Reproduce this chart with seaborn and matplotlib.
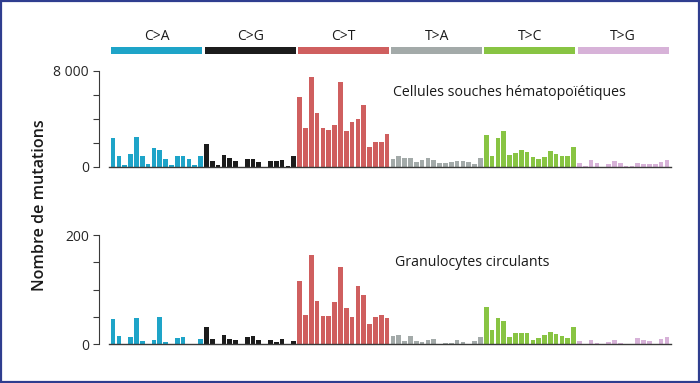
import numpy as np
import pandas as pd
import matplotlib
matplotlib.use("Agg")
import matplotlib.pyplot as plt
import seaborn as sns
from matplotlib.patches import Rectangle

# mutation classes (16 trinucleotide contexts each)
classes = ["C>A", "C>G", "C>T", "T>A", "T>C", "T>G"]
class_colors = ["#1ea4c8", "#1c1c1c", "#cf5f5f", "#a3aaa9", "#88c443", "#d7b2d8"]

# Cellules souches hematopoietiques
hsc_ca = [2370, 920, 140, 1060, 2510, 920, 200, 1530, 1390, 610, 140, 920, 860, 670, 140, 920]
hsc_cg = [1920, 450, 140, 980, 700, 470, 0, 640, 640, 360, 0, 500, 450, 560, 80, 860]
hsc_ct = [5840, 3260, 7470, 4490, 3230, 3090, 3510, 7070, 2980, 3710, 4010, 5170, 1660, 2080, 2080, 2690]
hsc_ta = [650, 840, 730, 730, 390, 510, 700, 560, 280, 280, 340, 420, 420, 340, 220, 700]
hsc_tc = [2670, 870, 2390, 2980, 930, 1150, 1380, 1240, 760, 650, 790, 1320, 1070, 840, 840, 1630]
hsc_tg = [280, 60, 530, 330, 0, 200, 450, 330, 40, 30, 280, 220, 220, 250, 360, 560]

# Granulocytes circulants
gran_ca = [46, 14, 0, 13, 48, 5, 0, 8, 49, 4, 0, 11, 13, 0, 0, 10]
gran_cg = [31, 10, 0, 17, 10, 8, 0, 12, 15, 8, 0, 8, 3, 10, 0, 5]
gran_ct = [115, 54, 163, 79, 52, 52, 77, 142, 66, 50, 107, 89, 37, 50, 54, 48]
gran_ta = [14, 17, 5, 14, 6, 3, 8, 9, 0, 2.5, 2.5, 7, 3, 0, 5, 13]
gran_tc = [67, 25, 47, 42, 13.5, 20, 20, 20, 7, 11, 17, 22, 19, 14, 11, 32]
gran_tg = [6, 0, 8, 2.5, 0, 3, 8, 2, 0, 0, 11, 7, 5, 0, 8.5, 12]

def make_df(parts):
    rows = []
    for cls, vals in zip(classes, parts):
        for v in vals:
            rows.append((cls, v))
    df = pd.DataFrame(rows, columns=["classe", "count"])
    df["pos"] = np.arange(len(df))
    return df

hsc = make_df([hsc_ca, hsc_cg, hsc_ct, hsc_ta, hsc_tc, hsc_tg])
gran = make_df([gran_ca, gran_cg, gran_ct, gran_ta, gran_tc, gran_tg])

sns.set_style("white")
plt.rcParams["font.family"] = ["Open Sans", "DejaVu Sans"]
text_col = "#1a1a1a"
axis_col = "#3a3a3a"

W, H = 700, 383
fig = plt.figure(figsize=(7, 3.83), dpi=100)
fig.patches.append(Rectangle((0.0015, 0.003), 0.997, 0.994, transform=fig.transFigure,
                             fill=False, edgecolor="#2f3d8f", linewidth=1.6))

def px_axes(x0, y0, x1, y1):
    return fig.add_axes([x0 / W, 1 - y1 / H, (x1 - x0) / W, (y1 - y0) / H])

pal = dict(zip(classes, class_colors))

def panel(ax, df, ymax, ticks, ticklabels, label, label_xy):
    sns.barplot(data=df, x="pos", y="count", hue="classe", palette=pal, dodge=False,
                width=0.8, legend=False, ax=ax, saturation=1, linewidth=0)
    ax.set_xlim(-0.7, 95.7)
    ax.set_ylim(0, ymax)
    ax.set_xlabel("")
    ax.set_ylabel("")
    ax.set_xticks([])
    ax.set_yticks(ticks[::len(ticks) - 1])
    ax.set_yticklabels(ticklabels, fontsize=10, color=text_col)
    ax.set_yticks(ticks, minor=True)
    ax.tick_params(axis="y", which="both", direction="out", length=4.5, width=0.8,
                   color=axis_col, left=True, pad=3)
    for s in ["top", "right"]:
        ax.spines[s].set_visible(False)
    ax.spines["left"].set_position(("outward", 7))
    ax.spines["left"].set_color(axis_col)
    ax.spines["left"].set_linewidth(0.8)
    ax.spines["bottom"].set_color(axis_col)
    ax.spines["bottom"].set_linewidth(1.0)
    ax.patch.set_alpha(0)
    ax.text(label_xy[0], label_xy[1], label, transform=ax.transAxes, fontsize=10.2,
            color=text_col, va="center", ha="left")

ax1 = px_axes(109, 71, 671, 166.5)
panel(ax1, hsc, 8000, [0, 2000, 4000, 6000, 8000], ["0", "8 000"],
      "Cellules souches hématopoïétiques", ((393 - 109) / 562, (166.5 - 92) / 95.5))

ax2 = px_axes(109, 235, 671, 344)
panel(ax2, gran, 200, [0, 50, 100, 150, 200], ["0", "200"],
      "Granulocytes circulants", ((395 - 109) / 562, (344 - 262) / 109))

# header bands with mutation classes
axh = px_axes(109, 26, 671, 54)
axh.set_xlim(-0.7, 95.7)
axh.set_ylim(0, 1)
axh.axis("off")
for i, (cls, col) in enumerate(zip(classes, class_colors)):
    axh.barh(0.13, 16 - 0.4, left=i * 16 - 0.5 + 0.2, height=0.26, color=col, linewidth=0)
    axh.text(i * 16 + 7.5, 0.62, cls, ha="center", va="center", fontsize=10, color=text_col)

fig.text(40 / W, 1 - 205 / H, "Nombre de mutations", rotation=90, ha="center", va="center",
         fontsize=11.6, fontweight="semibold", color=text_col)

fig.savefig("out.png", dpi=100)
